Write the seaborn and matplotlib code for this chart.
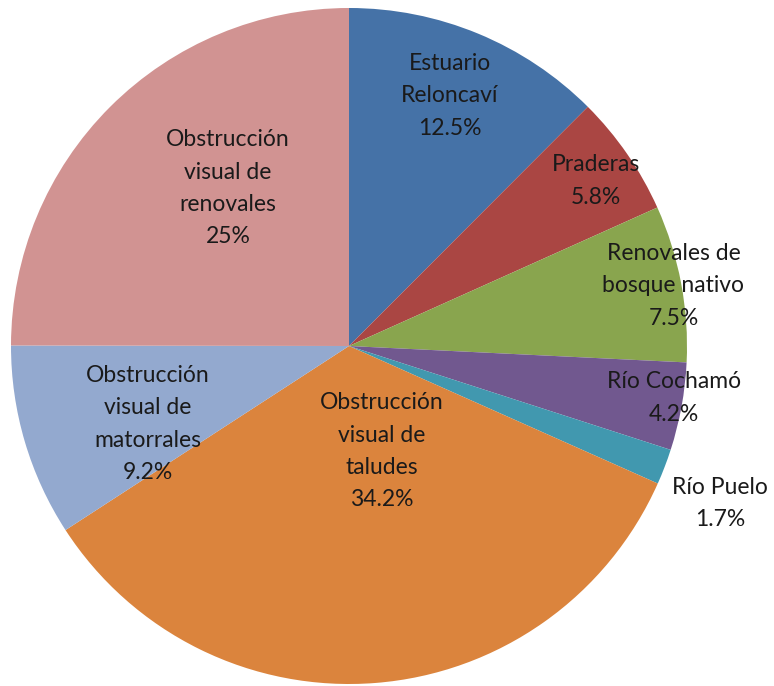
import matplotlib
matplotlib.use("Agg")
import matplotlib.pyplot as plt
import seaborn as sns

sns.set_theme(style="white")
plt.rcParams["font.family"] = ["Lato", "DejaVu Sans"]

# Slice names and shares (%), clockwise from 12 o'clock
categories = [
    "Estuario\nReloncaví",
    "Praderas",
    "Renovales de\nbosque nativo",
    "Río Cochamó",
    "Río Puelo",
    "Obstrucción\nvisual de\ntaludes",
    "Obstrucción\nvisual de\nmatorrales",
    "Obstrucción\nvisual de\nrenovales",
]
shares = [12.5, 5.8, 7.5, 4.2, 1.7, 34.2, 9.2, 25]
share_labels = ["12.5%", "5.8%", "7.5%", "4.2%", "1.7%", "34.2%", "9.2%", "25%"]

colors = ["#4572A7", "#AA4643", "#89A54E", "#71588F",
          "#4198AF", "#DB843D", "#93A9CF", "#D19392"]

# label anchor points, in units of the pie radius
label_xy = [(0.299, 0.740), (0.731, 0.488), (0.960, 0.178), (0.962, -0.154),
            (1.098, -0.467), (0.098, -0.311), (-0.595, -0.231), (-0.358, 0.467)]

W, H = 774, 686
fig = plt.figure(figsize=(W / 100, H / 100), dpi=100)
cx, cy, r = 349, 346, 338
ax = fig.add_axes([(cx - r) / W, (H - cy - r) / H, 2 * r / W, 2 * r / H])

ax.pie(shares, colors=colors, startangle=90, counterclock=False,
       radius=1.0, wedgeprops=dict(edgecolor="none", linewidth=0))
ax.set_xlim(-1, 1)
ax.set_ylim(-1, 1)
ax.set_aspect("equal")
ax.axis("off")

for name, lab, (x, y) in zip(categories, share_labels, label_xy):
    ax.text(x, y, f"{name}\n{lab}", ha="center", va="center",
            fontsize=16.5, color="#1a1a1a", linespacing=1.66, clip_on=False)

fig.savefig("out.png", dpi=100)
